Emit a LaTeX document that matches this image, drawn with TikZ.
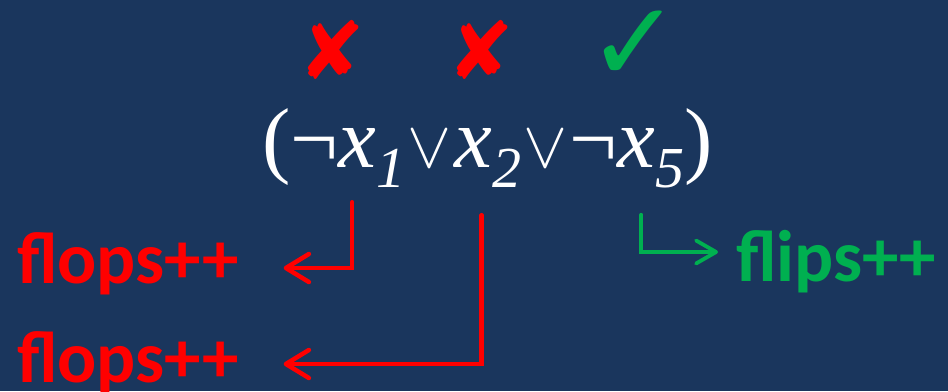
\documentclass[tikz,border=0pt]{standalone}
\usepackage{fix-cm}
\usepackage{fontspec}
\setmainfont{Liberation Serif}
\newfontfamily\labelfont{Carlito}
\newfontfamily\symfont{DejaVu Sans}
\usetikzlibrary{positioning,arrows.meta}
\definecolor{slideblue}{HTML}{1A365D}
\definecolor{failred}{HTML}{FF0000}
\definecolor{passgreen}{HTML}{00B050}
% literal with lowered subscript
\newcommand{\litsub}[1]{\raisebox{-20pt}{\fontsize{58}{60}\selectfont\itshape #1}}

\begin{document}
\begin{tikzpicture}[
  x=1pt,y=-1pt,
  formula/.style={inner sep=0pt,text=white,font=\fontsize{85}{90}\selectfont},
  orsym/.style={inner ysep=0pt,inner xsep=2pt,text=white,font=\fontsize{66}{70}\selectfont},
  count/.style={inner sep=0pt,anchor=base west,font=\labelfont\bfseries\fontsize{73}{80}\selectfont},
  failsym/.style={inner sep=0pt,text=failred,font=\symfont\fontsize{80}{84}\selectfont},
  passsym/.style={inner sep=0pt,text=passgreen,font=\symfont\fontsize{112}{114}\selectfont},
  redarrow/.style={failred,line width=4.5pt,line cap=round,-{Straight Barb[length=23pt,width=28pt,round]}},
  greenarrow/.style={passgreen,line width=3.8pt,line cap=round,-{Straight Barb[length=20pt,width=23pt,round]}},
  node distance=0pt,
]
\useasboundingbox (0,0) rectangle (948,391);
\fill[slideblue] (0,0) rectangle (948,391);
% the clause
\node[formula,anchor=base west] (lp) at (262,167) {(};
\node[formula,base right=of lp] (n1) {¬\textit{x}\litsub{1}};
\node[orsym,base right=of n1] (or1) {$\vee$};
\node[formula,base right=of or1] (n2) {\textit{x}\litsub{2}};
\node[orsym,base right=of n2] (or2) {$\vee$};
\node[formula,base right=of or2] (n3) {¬\textit{x}\litsub{5}};
\node[formula,base right=of n3] (rp) {)};
% truth marks
\node[failsym] (f1) at (332,50) {✘};
\node[failsym] (f2) at (481,50) {✘};
\node[passsym] (p3) at (634,46) {✓};
% counters
\node[count,text=failred] (fl1) at (17,283) {flops++};
\node[count,text=failred] (fl2) at (17,382) {flops++};
\node[count,text=passgreen] (fp) at (736,281) {flips++};
\draw[redarrow] ([xshift=4pt,yshift=-15pt]n1.south) |- ([xshift=45pt,yshift=15pt]fl1.base east);
\draw[redarrow] ([xshift=-6pt,yshift=-28pt]n2.south) |- ([xshift=45pt,yshift=18pt]fl2.base east);
\draw[greenarrow] ([xshift=14pt,yshift=-27pt]n3.south) |- ([xshift=-18pt,yshift=29pt]fp.base west);
\end{tikzpicture}
\end{document}
